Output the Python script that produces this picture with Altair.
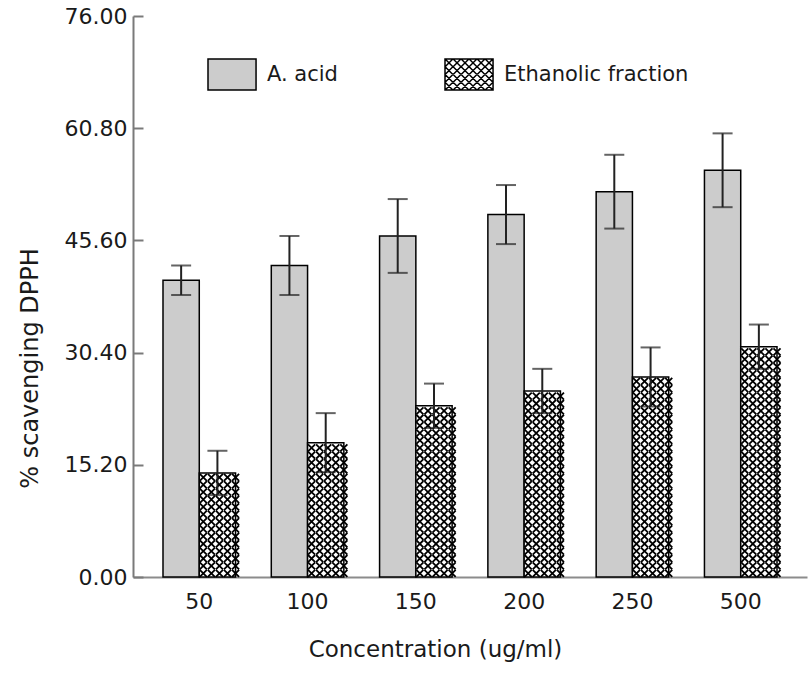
import altair as alt
import pandas as pd

# ---- data ----
concentrations = ["50", "100", "150", "200", "250", "500"]
series_names = ["A. acid", "Ethanolic fraction"]
acid_values = [40.2, 42.2, 46.2, 49.1, 52.2, 55.1]
acid_errors = [2.0, 4.0, 5.0, 4.0, 5.0, 5.0]
eth_values = [14.1, 18.2, 23.2, 25.2, 27.1, 31.2]
eth_errors = [3.0, 4.0, 3.0, 3.0, 4.0, 3.0]
y_ticks = [0.0, 15.2, 30.4, 45.6, 60.8, 76.0]

rows = []
for c, v, e in zip(concentrations, acid_values, acid_errors):
    rows.append(dict(conc=c, series=series_names[0], value=v, lo=v - e, hi=v + e))
for c, v, e in zip(concentrations, eth_values, eth_errors):
    rows.append(dict(conc=c, series=series_names[1], value=v, lo=v - e, hi=v + e))
df = pd.DataFrame(rows)

# hatch texture for the ethanolic bars (decoration only, bounded by the bar values)
N_COLS = 5
sub_cols = [f"a{i}" for i in range(N_COLS)] + [f"e{i}" for i in range(N_COLS)]
tex_step = 1.0
tex_rows = []
for c, v in zip(concentrations, eth_values):
    k = 0
    while (k + 0.5) * tex_step + 0.45 <= v:
        for i in range(N_COLS):
            tex_rows.append(dict(conc=c, col=f"e{i}", ty=(k + 0.5) * tex_step))
        k += 1
tex = pd.DataFrame(tex_rows)

FONT = "DejaVu Sans"
TXT = "#1a1a1a"
W, H = 674, 561

x_enc = alt.X(
    "conc:N", sort=concentrations,
    scale=alt.Scale(paddingInner=0.33, paddingOuter=0.277),
    axis=alt.Axis(
        ticks=False, tickSize=0, domainColor="#8c8c8c", domainWidth=2, labelAngle=0,
        labelFont=FONT, labelFontSize=22, labelColor=TXT, labelPadding=14,
        title="Concentration (ug/ml)", titleFont=FONT, titleFontSize=23,
        titleFontWeight="normal", titleColor=TXT, titleX=302, titleY=72,
        titleAlign="center", titleBaseline="middle",
    ),
)
xo_enc = alt.XOffset("series:N", sort=series_names,
                     scale=alt.Scale(paddingInner=0, paddingOuter=0))
y_scale = alt.Scale(domain=[0, 76], nice=False, zero=True)
fill_scale = alt.Scale(domain=series_names, range=["#cccccc", "#ffffff"])

rect_path = "M-1,-1H2.1V1H-1Z"
hatch = [rect_path]
for i in range(6):
    for j in range(4):
        cx = -1 + (i + 0.5) * (3.1 / 6)
        cy = -1 + (j + 0.5) * 0.5
        d = 0.25
        hatch.append(f"M{cx-d:.3f},{cy-d:.3f}L{cx+d:.3f},{cy+d:.3f}M{cx+d:.3f},{cy-d:.3f}L{cx-d:.3f},{cy+d:.3f}")
hatch_path = "".join(hatch)

legend = alt.Legend(
    title=None, orient="none", legendX=74, legendY=42, direction="horizontal",
    symbolSize=961, symbolStrokeColor="black", symbolOpacity=1,
    symbolStrokeWidth=1.5, labelFont=FONT, labelFontSize=21, labelColor=TXT,
    labelOffset=27, labelLimit=400, columnPadding=104, padding=0,
)

bars = alt.Chart(df).mark_bar(stroke="black", strokeWidth=1.5).encode(
    x=x_enc, xOffset=xo_enc,
    y=alt.Y("value:Q", scale=y_scale, axis=alt.Axis(
        values=y_ticks, format=".2f", ticks=False, tickSize=0, grid=False,
        domainColor="#7a7a7a", domainWidth=2, labelFont=FONT, labelFontSize=22,
        labelColor=TXT, labelPadding=6, labelFlush=False,
        title="% scavenging DPPH", titleFont=FONT, titleFontSize=24,
        titleFontWeight="normal", titleColor=TXT, titleAngle=-90,
        titleX=-103, titleY=352, titleAlign="center", titleBaseline="middle")),
    fill=alt.Fill("series:N", scale=fill_scale, legend=legend),
)

# layer with no marks of its own that only carries the legend (fill, stroke + custom shapes)
legend_layer = alt.Chart(df).transform_filter("datum.value < 0").mark_point(
    filled=True, strokeWidth=1.5
).encode(
    x=x_enc, xOffset=xo_enc,
    y=alt.Y("value:Q", scale=y_scale, axis=None),
    fill=alt.Fill("series:N", scale=fill_scale, legend=legend),
    stroke=alt.Stroke("series:N", scale=alt.Scale(domain=series_names,
                                                   range=["#000000", "#000000"]),
                      legend=legend),
    shape=alt.Shape("series:N", scale=alt.Scale(domain=series_names,
                                                 range=[rect_path, hatch_path]),
                    legend=legend),
)

texture = alt.Chart(tex).mark_point(
    shape="M-1,-1L1,1M1,-1L-1,1", size=50, stroke="black",
    strokeWidth=1.8, filled=False, opacity=1,
).encode(
    x=x_enc,
    xOffset=alt.XOffset("col:N", scale=alt.Scale(domain=sub_cols, paddingInner=0,
                                                 paddingOuter=0)),
    y=alt.Y("ty:Q", scale=y_scale, axis=None),
)

err_rule = alt.Chart(df).mark_rule(color="#222222", strokeWidth=2).encode(
    x=x_enc, xOffset=xo_enc,
    y=alt.Y("lo:Q", scale=y_scale, axis=alt.Axis(
        orient="right", offset=-W, values=y_ticks, labels=False, domain=False,
        grid=False, ticks=True, tickSize=10, tickColor="#7a7a7a", tickWidth=2,
        title=None)),
    y2="hi:Q",
)
caps_lo = alt.Chart(df).mark_tick(color="#222222", thickness=2, size=20, orient="horizontal").encode(
    x=x_enc, xOffset=xo_enc, y=alt.Y("lo:Q", scale=y_scale, axis=None))
caps_hi = alt.Chart(df).mark_tick(color="#222222", thickness=2, size=20, orient="horizontal").encode(
    x=x_enc, xOffset=xo_enc, y=alt.Y("hi:Q", scale=y_scale, axis=None))

chart = alt.layer(
    bars, texture, err_rule, caps_lo, caps_hi, legend_layer
).resolve_axis(y="independent").resolve_scale(xOffset="independent").properties(
    width=W, height=H,
    autosize=alt.AutoSizeParams(type="none"),
    padding={"left": 133, "top": 16, "right": 1, "bottom": 96},
    background="white",
).configure(font=FONT).configure_view(stroke=None)

chart.save("out.html", embed_options={"renderer": "svg", "actions": False})
